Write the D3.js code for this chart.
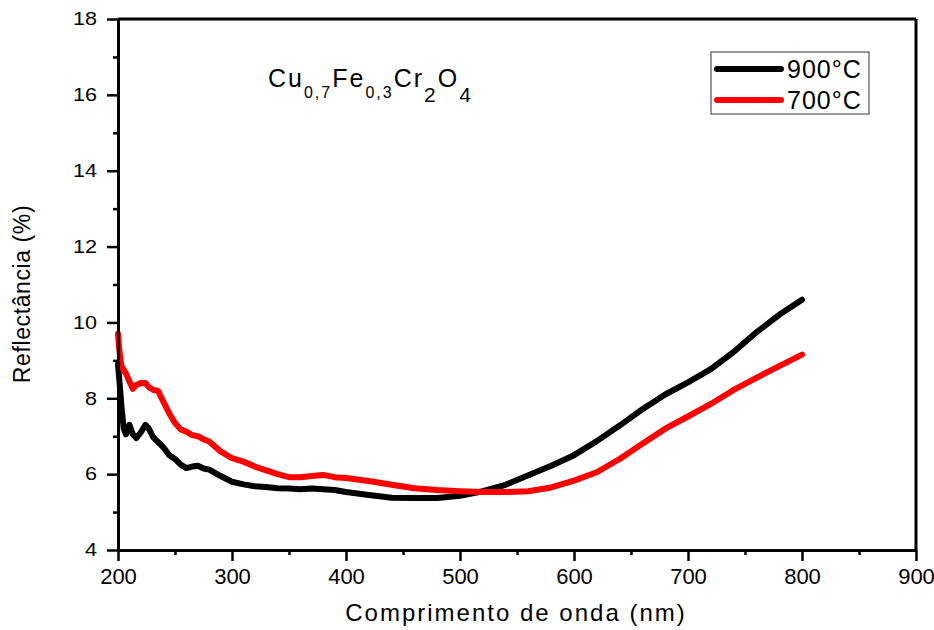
<!DOCTYPE html>
<html>
<head>
<meta charset="utf-8">
<script src="https://cdn.jsdelivr.net/npm/d3@7"></script>
<style>
  body { margin: 0; background: #fff; }
  svg { font-family: "Liberation Sans", Arial, sans-serif; }
  .axis path, .axis line { stroke: #000; }
</style>
</head>
<body>
<svg width="934" height="630"></svg>
<script>
// wavelength grid (nm)
const wavelength = [200, 201, 203, 205, 207, 210, 213, 216, 220, 224, 227, 231, 235, 240, 245, 250, 255, 260, 265, 270, 275, 280,
  290, 300, 310, 320, 330, 340, 350, 360, 370, 380, 390, 400, 420, 440, 460, 480, 500, 520, 540, 560, 580,
  600, 620, 640, 660, 680, 700, 720, 740, 760, 780, 800];

// reflectance (%)
const r900 = [8.9, 8.55, 7.8, 7.2, 7.05, 7.3, 7.05, 6.95, 7.1, 7.3, 7.2, 6.97, 6.85, 6.7, 6.5, 6.4, 6.25, 6.16, 6.2, 6.22, 6.15, 6.12,
  5.95, 5.8, 5.73, 5.68, 5.66, 5.63, 5.62, 5.6, 5.62, 5.6, 5.58, 5.53, 5.45, 5.38, 5.37, 5.37, 5.43, 5.55, 5.72, 5.97, 6.22,
  6.5, 6.87, 7.28, 7.71, 8.1, 8.42, 8.77, 9.22, 9.74, 10.2, 10.6];
const r700 = [9.7, 9.3, 8.85, 8.75, 8.65, 8.45, 8.25, 8.35, 8.4, 8.4, 8.3, 8.22, 8.2, 7.9, 7.6, 7.35, 7.18, 7.12, 7.03, 7.0, 6.92, 6.86,
  6.6, 6.42, 6.33, 6.2, 6.1, 6.0, 5.92, 5.92, 5.95, 5.98, 5.92, 5.9, 5.82, 5.72, 5.63, 5.58, 5.55, 5.53, 5.53, 5.55, 5.65,
  5.83, 6.05, 6.4, 6.8, 7.2, 7.52, 7.85, 8.22, 8.54, 8.85, 9.15];

const seriesNames = ["900°C", "700°C"];
const seriesColors = ["#000000", "#ff0000"];

const xMajor = [200, 300, 400, 500, 600, 700, 800, 900];
const xMinor = [250, 350, 450, 550, 650, 750, 850];
const yMajor = [4, 6, 8, 10, 12, 14, 16, 18];
const yMinor = [5, 7, 9, 11, 13, 15, 17];

const svg = d3.select("svg"),
      margin = { top: 19, right: 18, bottom: 80, left: 118 },
      width = +svg.attr("width") - margin.left - margin.right,
      height = +svg.attr("height") - margin.top - margin.bottom;

const g = svg.append("g").attr("transform", `translate(${margin.left},${margin.top})`);

const x = d3.scaleLinear().domain([200, 900]).range([0, width]);
const y = d3.scaleLinear().domain([4, 18]).range([height, 0]);

// curves
const series = [r900, r700];
const line = d3.line()
  .x((d, i) => x(wavelength[i]))
  .y(d => y(d));

series.forEach((vals, k) => {
  g.append("path")
    .datum(vals)
    .attr("fill", "none")
    .attr("stroke", seriesColors[k])
    .attr("stroke-width", 6)
    .attr("stroke-linejoin", "round")
    .attr("stroke-linecap", "round")
    .attr("d", line);
});

// minor ticks
g.append("g")
  .attr("class", "axis")
  .attr("transform", `translate(0,${height})`)
  .call(d3.axisBottom(x).tickValues(xMinor).tickSize(5).tickFormat(""))
  .call(s => s.select(".domain").remove())
  .selectAll("line").attr("stroke-width", 2.5);

g.append("g")
  .attr("class", "axis")
  .call(d3.axisLeft(y).tickValues(yMinor).tickSize(5).tickFormat(""))
  .call(s => s.select(".domain").remove())
  .selectAll("line").attr("stroke-width", 2.5);

// major ticks + labels
const xAxis = g.append("g")
  .attr("class", "axis")
  .attr("transform", `translate(0,${height})`)
  .call(d3.axisBottom(x).tickValues(xMajor).tickSize(11).tickSizeOuter(0));
xAxis.select(".domain").attr("stroke-width", 3);
xAxis.selectAll("line").attr("stroke-width", 2.5);
xAxis.selectAll("text")
  .attr("font-size", 22)
  .attr("font-family", "Liberation Sans, Arial, sans-serif")
  .attr("fill", "#000")
  .attr("y", 34)
  .attr("dy", 0);

const yAxis = g.append("g")
  .attr("class", "axis")
  .call(d3.axisLeft(y).tickValues(yMajor).tickSize(11).tickSizeOuter(0));
yAxis.select(".domain").attr("stroke-width", 3);
yAxis.selectAll("line").attr("stroke-width", 2.5);
yAxis.selectAll("text")
  .attr("font-size", 18)
  .attr("font-family", "Liberation Sans, Arial, sans-serif")
  .attr("fill", "#000")
  .attr("x", 0)
  .attr("transform", "translate(-21,0) scale(1.2,1)");

// frame top / right
g.append("line")
  .attr("x1", 0).attr("x2", width).attr("y1", 0).attr("y2", 0)
  .attr("stroke", "#000").attr("stroke-width", 3);
g.append("line")
  .attr("x1", width).attr("x2", width).attr("y1", 0).attr("y2", height)
  .attr("stroke", "#000").attr("stroke-width", 3);

// axis titles
svg.append("text")
  .attr("x", 516)
  .attr("y", 621)
  .attr("text-anchor", "middle")
  .attr("font-size", 24)
  .attr("letter-spacing", 2)
  .text("Comprimento de onda (nm)");

svg.append("text")
  .attr("transform", "translate(30,294) rotate(-90)")
  .attr("text-anchor", "middle")
  .attr("font-size", 23)
  .attr("letter-spacing", 0.6)
  .text("Reflectância (%)");

// formula label
const f = g.append("text")
  .attr("x", 150)
  .attr("y", 68)
  .attr("font-size", 25)
  .attr("letter-spacing", 2);
f.append("tspan").text("Cu");
f.append("tspan").attr("font-size", 16).attr("dy", 11).text("0,7");
f.append("tspan").attr("dy", -11).text("Fe");
f.append("tspan").attr("font-size", 16).attr("dy", 11).text("0,3");
f.append("tspan").attr("dy", -11).text("Cr");
f.append("tspan").attr("font-size", 21).attr("dy", 15).text("2");
f.append("tspan").attr("dy", -15).text("O");
f.append("tspan").attr("font-size", 21).attr("dy", 15).text("4");

// legend
const legend = svg.append("g").attr("transform", "translate(711,52)");
legend.append("rect")
  .attr("width", 158).attr("height", 62)
  .attr("fill", "#fff").attr("stroke", "#333").attr("stroke-width", 1);
seriesNames.forEach((name, k) => {
  const ly = 17 + k * 31;
  legend.append("line")
    .attr("x1", 6).attr("x2", 70).attr("y1", ly).attr("y2", ly)
    .attr("stroke", seriesColors[k]).attr("stroke-width", 6)
    .attr("stroke-linecap", "round");
  legend.append("text")
    .attr("x", 76).attr("y", ly + 9)
    .attr("font-size", 25)
    .attr("letter-spacing", 1)
    .text(name);
});
</script>
</body>
</html>
